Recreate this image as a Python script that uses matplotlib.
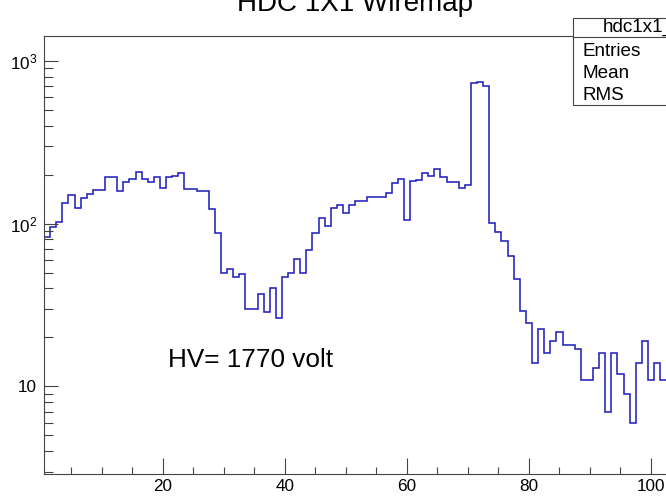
import numpy as np
import matplotlib
matplotlib.use("Agg")
import matplotlib.pyplot as plt
from matplotlib.patches import Rectangle
from matplotlib.lines import Line2D
from matplotlib.ticker import MultipleLocator, LogLocator, FuncFormatter, NullFormatter

plt.rcParams['font.family'] = ['Liberation Sans', 'DejaVu Sans']
plt.rcParams['mathtext.fontset'] = 'custom'
plt.rcParams['mathtext.rm'] = 'Liberation Sans'
plt.rcParams['mathtext.it'] = 'Liberation Sans:italic'

# hits per wire, hdc 1x1 plane
wires = np.arange(1, 103)
counts = [
    82.5, 95, 102, 133, 149, 124, 144, 152, 161, 161,
    193, 193, 158, 181, 187, 208, 188, 180, 193, 166,
    193, 197, 204, 163, 163, 158, 158, 123, 88, 50,
    52.5, 47, 49, 30, 30, 37, 28.5, 40, 26.5, 47,
    50, 61, 50, 69, 87, 109, 97, 125, 131, 116,
    131, 138, 138, 146, 146, 145, 154, 178, 188, 105,
    183, 185, 204, 196, 216, 192, 181, 181, 166, 173,
    734, 742, 700, 101, 89, 78, 63, 46, 29, 24.5,
    14, 22.5, 16, 19, 21.5, 18, 18, 17, 11, 11,
    13, 16, 7, 16, 12, 9, 6, 14, 19, 11,
    14, 11,
]
title = "HDC 1X1 Wiremap"
hist_name = "hdc1x1_wiremap"
stat_rows = ["Entries", "Mean", "RMS"]
note = "HV= 1770 volt"

W, H = 666, 497
frame_col = '#444444'


def fx(px):
    return px / W


def fy(py):
    return 1 - py / H


fig = plt.figure(figsize=(W / 100, H / 100), dpi=100)
# the frame runs on past the right edge of the canvas
ax = fig.add_axes([fx(44), fy(474), 128 * 6.1 / W, (474 - 36) / H])

edges = np.append(wires - 0.5, wires[-1] + 0.5)
ax.stairs(counts, edges, baseline=None, color='#2222bb', lw=1.15)

ax.set_yscale('log')
ax.set_xlim(0.5, 128.5)
ax.set_ylim(2.9, 1420)

ax.xaxis.set_major_locator(MultipleLocator(20))
ax.xaxis.set_minor_locator(MultipleLocator(5))
ax.yaxis.set_major_locator(LogLocator(base=10))
ax.yaxis.set_minor_locator(LogLocator(base=10, subs=np.arange(2, 10)))
ax.yaxis.set_minor_formatter(NullFormatter())


def log_label(v, pos):
    e = int(round(np.log10(v)))
    if e == 1:
        return "10"
    return r'$\mathdefault{10^{%d}}$' % e


ax.yaxis.set_major_formatter(FuncFormatter(log_label))

ax.tick_params(axis='both', which='both', direction='in', color=frame_col,
               width=0.8, labelsize=12.3, labelcolor='black')
ax.tick_params(axis='x', which='major', length=11.2, pad=3.5)
ax.tick_params(axis='x', which='minor', length=5.4)
ax.tick_params(axis='y', which='major', length=10.2, pad=5)
ax.tick_params(axis='y', which='minor', length=6.5)
for sp in ax.spines.values():
    sp.set_color(frame_col)
    sp.set_linewidth(0.8)

fig.text(fx(355), fy(11), title, ha='center', va='baseline', fontsize=20)
fig.text(fx(168), fy(367), note, ha='left', va='baseline', fontsize=18.8)

# stats box, clipped by the canvas edge
box = Rectangle((fx(573), fy(105)), 0.3, (105 - 18) / H, transform=fig.transFigure,
                facecolor='white', edgecolor=frame_col, lw=0.8, zorder=5)
fig.add_artist(box)
fig.add_artist(Line2D([fx(573), 1.2], [fy(37), fy(37)], transform=fig.transFigure,
                      color=frame_col, lw=0.8, zorder=6))
fig.text(fx(603), fy(27), hist_name, ha='left', va='center', fontsize=13.6, zorder=7)
for i, row in enumerate(stat_rows):
    fig.text(fx(582), fy(51 + 22 * i), row, ha='left', va='center', fontsize=13.6, zorder=7)

fig.savefig("out.png", dpi=100)
